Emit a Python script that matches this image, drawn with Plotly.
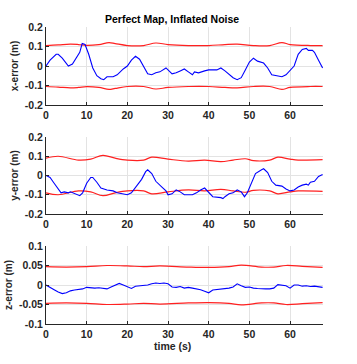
import plotly.graph_objects as go

# ---- data ----
tx = [0, 1, 2.5, 3, 4, 5, 5.5, 6.5, 7.5, 8.3, 8.9, 9.6, 10.5, 11.5, 12.5, 13.5, 14.2, 15, 16.5, 17.5,
      19, 20, 21, 22, 23, 24, 25, 26, 27, 28, 29, 29.5, 31, 32, 33, 34, 35, 36, 36.5, 37.5, 39, 40,
      42, 43, 44, 46, 47, 48, 49, 50, 51, 52, 53.5, 54.5, 55.5, 57, 58, 59, 60, 61, 62, 63, 64,
      64.5, 65.5, 66, 67, 68]
ex = [0, 0.03, 0.06, 0.06, 0.04, 0.01, 0.0, 0.01, 0.04, 0.07, 0.115, 0.11, 0.06, -0.01, -0.05, -0.065,
      -0.07, -0.055, -0.055, -0.045, -0.015, 0.0, 0.03, 0.05, 0.035, 0.0, -0.04, -0.045, -0.035, -0.03,
      -0.015, -0.01, -0.04, -0.035, -0.025, -0.015, -0.03, -0.045, -0.03, -0.035, -0.025, -0.02,
      -0.02, -0.01, -0.025, -0.06, -0.07, -0.06, -0.02, 0.02, 0.04, 0.025, 0.015, -0.01, -0.045,
      -0.05, -0.055, -0.045, -0.025, 0.0, 0.06, 0.085, 0.09, 0.08, 0.08, 0.07, 0.03, -0.01]

tsx = [0, 3, 6, 8, 10, 13, 15.5, 17, 20, 24, 27, 30, 35, 40, 44, 47, 51, 55, 58, 60, 65, 68]
sx = [0.105, 0.108, 0.112, 0.11, 0.106, 0.11, 0.12, 0.115, 0.105, 0.105, 0.118, 0.11, 0.105, 0.105,
      0.11, 0.112, 0.105, 0.105, 0.12, 0.11, 0.105, 0.105]

ty = [0, 1, 2, 3, 3.7, 4.5, 5.5, 6, 7, 8.3, 9, 10, 11, 11.5, 12.5, 13.5, 15, 16.5, 17.5, 19, 20, 21,
      22, 23.5, 24.5, 25, 26, 27, 28.5, 29.5, 30, 31, 32, 33, 34, 36, 37, 38, 39, 40, 41, 43, 43.5,
      44, 45, 46, 47, 48, 48.8, 49.5, 50.5, 51.5, 53, 53.5, 54.5, 55.5, 56.5, 58, 59, 60, 61, 62,
      63, 64, 64.5, 65, 66, 67, 68]
ey = [0.0, -0.01, -0.04, -0.07, -0.09, -0.085, -0.09, -0.085, -0.095, -0.105, -0.09, -0.04, -0.01,
      -0.01, -0.035, -0.065, -0.075, -0.08, -0.09, -0.095, -0.1, -0.09, -0.06, -0.02, 0.02, 0.03,
      0.01, -0.03, -0.06, -0.08, -0.1, -0.095, -0.075, -0.085, -0.1, -0.1, -0.09, -0.075, -0.065,
      -0.085, -0.11, -0.115, -0.12, -0.11, -0.095, -0.09, -0.075, -0.085, -0.11, -0.09, -0.04, 0.01,
      0.03, 0.035, 0.015, -0.03, -0.05, -0.055, -0.07, -0.08, -0.075, -0.06, -0.05, -0.045, -0.05,
      -0.035, -0.03, -0.005, 0.005]

tsy = [0, 3, 8, 11, 14, 17, 20, 24, 26, 30, 35, 39, 43, 46, 49, 51, 55, 57, 60, 62, 68]
sy = [0.09, 0.1, 0.08, 0.085, 0.105, 0.09, 0.08, 0.08, 0.095, 0.085, 0.075, 0.08, 0.072, 0.08,
      0.087, 0.077, 0.08, 0.095, 0.085, 0.08, 0.082]

tz = list(range(0, 69))
ez = [0, -0.005, -0.012, -0.018, -0.022, -0.02, -0.015, -0.013, -0.012, -0.01, -0.006, -0.007,
      -0.008, -0.007, -0.009, -0.01, -0.005, 0.0, 0.004, 0.0, -0.005, -0.009, -0.003, -0.002, -0.001,
      0.0, 0.003, 0.005, 0.004, 0.005, 0.003, -0.005, -0.006, -0.004, -0.008, -0.006, -0.008, -0.01,
      -0.012, -0.016, -0.02, -0.013, -0.012, -0.01, -0.01, -0.008, -0.005, 0.003, -0.002, -0.006,
      -0.005, -0.008, -0.009, -0.01, -0.01, -0.01, -0.008, 0.001, 0.0, -0.002, -0.008, 0.0, 0.0,
      -0.003, -0.002, -0.004, -0.003, -0.004, -0.006]

tsz = [0, 5, 10, 15, 20, 24, 28, 35, 40, 45, 48, 53, 56, 59, 63, 68]
sz = [0.047, 0.046, 0.047, 0.05, 0.049, 0.047, 0.049, 0.046, 0.045, 0.047, 0.051, 0.046, 0.046,
      0.05, 0.048, 0.045]

xy_ticks = [-0.2, -0.1, 0, 0.1, 0.2]
xy_ticktext = ["-0.2", "-0.1", "0", "0.1", "0.2"]
z_ticks = [-0.1, -0.05, 0, 0.05, 0.1]
z_ticktext = ["-0.1", "-0.05", "0", "0.05", "0.1"]
t_ticks = [0, 10, 20, 30, 40, 50, 60]

title = "Perfect Map, Inflated Noise"
ylabels = ["x-error (m)", "y-error (m)", "z-error (m)"]
xlabel = "time (s)"

BLUE = "#0000ff"
RED = "#ff2020"
FONT = "Liberation Sans"
TXT = "#262626"

fig = go.Figure()
H = 364
top, bot = 27, 40
ph = H - top - bot
def dom(ytop, ybot):
    return [(H - bot - ybot) / ph, (H - bot - ytop) / ph]

domains = [dom(27, 105), dom(137, 214), dom(246, 324)]
panels = [(tx, ex, tsx, sx, xy_ticks, xy_ticktext, 0.2),
          (ty, ey, tsy, sy, xy_ticks, xy_ticktext, 0.2),
          (tz, ez, tsz, sz, z_ticks, z_ticktext, 0.1)]

for i, (t, e, ts, s, yt, ytt, lim) in enumerate(panels):
    xa = "x" if i == 0 else f"x{i+1}"
    ya = "y" if i == 0 else f"y{i+1}"
    fig.add_trace(go.Scatter(x=ts, y=s, mode="lines", line=dict(color=RED, width=1.2, shape="spline"),
                             xaxis=xa, yaxis=ya, showlegend=False, hoverinfo="skip"))
    fig.add_trace(go.Scatter(x=ts, y=[-v for v in s], mode="lines",
                             line=dict(color=RED, width=1.2, shape="spline"),
                             xaxis=xa, yaxis=ya, showlegend=False, hoverinfo="skip"))
    fig.add_trace(go.Scatter(x=t, y=e, mode="lines", line=dict(color=BLUE, width=1.1),
                             xaxis=xa, yaxis=ya, showlegend=False, hoverinfo="skip"))
    xkey = "xaxis" if i == 0 else f"xaxis{i+1}"
    ykey = "yaxis" if i == 0 else f"yaxis{i+1}"
    axis_common = dict(showline=True, linecolor=TXT, linewidth=1, gridcolor="#e3e3e3", gridwidth=1,
                       zeroline=False, ticks="inside", ticklen=3, tickcolor=TXT, automargin=False,
                       tickfont=dict(family=FONT, size=10.5, color=TXT, weight="bold"))
    fig.update_layout({
        xkey: dict(domain=[0, 1], anchor=ya, range=[0, 68.1], tickvals=t_ticks, **axis_common),
        ykey: dict(domain=domains[i], anchor=xa, range=[-lim, lim], tickvals=yt, ticktext=ytt,
                   title=dict(text=ylabels[i], font=dict(family=FONT, size=10, color=TXT, weight="bold"),
                              standoff=4),
                   **axis_common),
    })

fig.update_layout(
    width=357, height=364,
    margin=dict(l=46, r=34, t=top, b=bot, autoexpand=False),
    paper_bgcolor="white", plot_bgcolor="white",
    annotations=[
        dict(text=title, x=(172 - 46) / 277, xref="paper", y=(H - bot - 19) / ph, yref="paper",
             showarrow=False, xanchor="center", yanchor="middle",
             font=dict(family=FONT, size=10.5, color="black", weight="bold")),
        dict(text=xlabel, x=(172 - 46) / 277, xref="paper", y=-(346 - (H - bot)) / ph, yref="paper",
             showarrow=False, xanchor="center", yanchor="middle",
             font=dict(family=FONT, size=10.5, color=TXT, weight="bold")),
    ],
)

fig.write_html("out.html", config={"displayModeBar": False},
               post_script="document.body.style.margin='0';document.body.style.overflow='hidden';")
